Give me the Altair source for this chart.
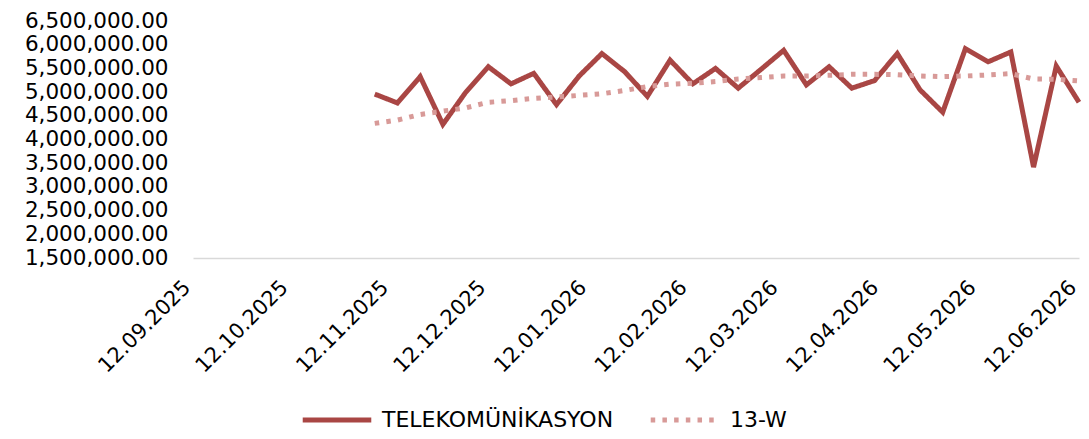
import altair as alt
import pandas as pd

weeks = ["2025-11-07", "2025-11-14", "2025-11-21", "2025-11-28",
         "2025-12-05", "2025-12-12", "2025-12-19", "2025-12-26",
         "2026-01-02", "2026-01-09", "2026-01-16", "2026-01-23", "2026-01-30",
         "2026-02-06", "2026-02-13", "2026-02-20", "2026-02-27",
         "2026-03-06", "2026-03-13", "2026-03-20", "2026-03-27",
         "2026-04-03", "2026-04-10", "2026-04-17", "2026-04-24",
         "2026-05-01", "2026-05-08", "2026-05-15", "2026-05-22", "2026-05-29",
         "2026-06-05", "2026-06-12"]

telekom = [4958000, 4771000, 5326000, 4319000, 4993000, 5535000, 5174000, 5396000,
           4736000, 5340000, 5813000, 5431000, 4910000, 5674000, 5174000, 5500000,
           5083000, 5479000, 5882000, 5153000, 5535000, 5083000, 5243000, 5813000,
           5049000, 4576000, 5917000, 5639000, 5847000, 3417000, 5549000, 4785000]

ma13 = [4340000, 4410000, 4527000, 4598000, 4667000, 4785000, 4819000, 4869000,
        4896000, 4931000, 4965000, 5035000, 5118000, 5167000, 5188000, 5222000,
        5277000, 5306000, 5340000, 5340000, 5354000, 5375000, 5375000, 5368000,
        5340000, 5326000, 5340000, 5361000, 5389000, 5277000, 5271000, 5236000]

series_names = ["TELEKOMÜNİKASYON", "13-W"]
series_colors = ["#A94644", "#D89A98"]

tick_months = [(2025, 9), (2025, 10), (2025, 11), (2025, 12), (2026, 1), (2026, 2),
               (2026, 3), (2026, 4), (2026, 5), (2026, 6)]
y_ticks = [1500000, 2000000, 2500000, 3000000, 3500000, 4000000, 4500000,
           5000000, 5500000, 6000000, 6500000]

df = pd.concat([
    pd.DataFrame({"date": weeks, "value": telekom, "series": series_names[0]}),
    pd.DataFrame({"date": weeks, "value": ma13, "series": series_names[1]}),
])

FONT = "DejaVu Sans"

x_values = [alt.DateTime(year=y, month=m, date=12, utc=True) for y, m in tick_months]

chart = alt.Chart(df).mark_line(strokeWidth=5, strokeJoin="miter").encode(
    x=alt.X("date:T",
            scale=alt.Scale(type="utc",
                            domain=[alt.DateTime(year=2025, month=9, date=12, utc=True),
                                    alt.DateTime(year=2026, month=6, date=12, utc=True)],
                            nice=False),
            axis=alt.Axis(values=x_values, format="%d.%m.%Y", labelAngle=-45,
                          labelAlign="right", labelBaseline="middle",
                          labelPadding=26, labelOffset=-6, ticks=False, grid=False,
                          domainColor="#D9D9D9", domainWidth=1.5,
                          labelFont=FONT, labelFontSize=21, labelColor="#000000",
                          title=None, labelOverlap=False, labelFlush=False)),
    y=alt.Y("value:Q",
            scale=alt.Scale(domain=[1500000, 6500000], nice=False, zero=False),
            axis=alt.Axis(values=y_ticks, format=",.2f", ticks=False, grid=False,
                          domain=False, labelPadding=25, labelFont=FONT,
                          labelFontSize=21.5, labelColor="#000000", title=None,
                          labelOverlap=False, labelFlush=False)),
    color=alt.Color("series:N",
                    scale=alt.Scale(domain=series_names, range=series_colors),
                    legend=alt.Legend(title=None, orient="none", direction="horizontal",
                                      legendX=107, legendY=362, padding=0,
                                      symbolType="stroke", symbolSize=4700,
                                      symbolStrokeWidth=5, labelFont=FONT,
                                      labelFontSize=22, labelColor="#000000",
                                      labelOffset=8, columnPadding=26, labelLimit=400)),
    strokeDash=alt.StrokeDash("series:N",
                              scale=alt.Scale(domain=series_names,
                                              range=[[1, 0], [4.5, 7.2]]),
                              legend=None),
    detail="series:N",
).properties(
    width=886, height=237,
    autosize=alt.AutoSizeParams(type="none"),
    padding={"left": 185, "top": 13, "right": 2, "bottom": 180},
).configure_view(stroke=None)

chart.save("out.html", embed_options={"renderer": "svg", "actions": False})
